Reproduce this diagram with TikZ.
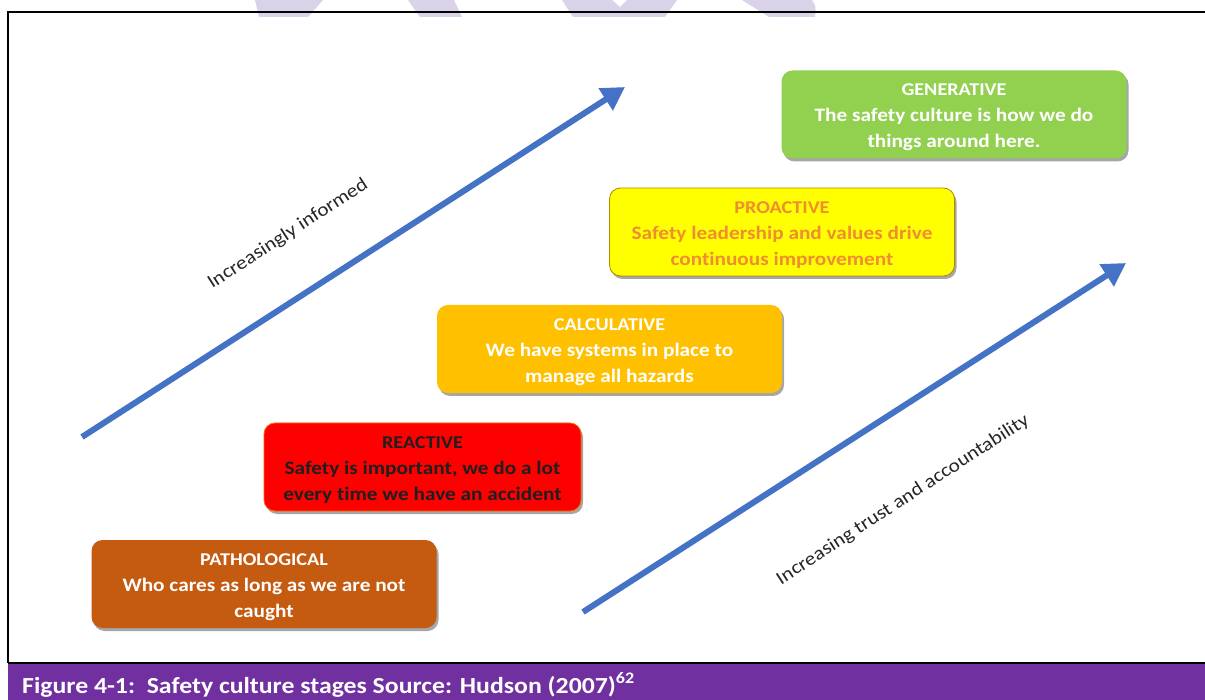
\documentclass[tikz,border=0pt]{standalone}
\usepackage{fontspec}
\setmainfont{Carlito}[FakeStretch=1.12, Ligatures=NoCommon]
\usetikzlibrary{arrows.meta,shadows}
\definecolor{patho}{HTML}{C55A11}
\definecolor{react}{HTML}{FF0000}
\definecolor{calc}{HTML}{FFC000}
\definecolor{proact}{HTML}{FFFF00}
\definecolor{gener}{HTML}{92D050}
\definecolor{proacttext}{HTML}{F08C32}
\definecolor{arrowblue}{HTML}{4472C4}
\definecolor{capbar}{HTML}{7030A0}
\definecolor{lettertint}{HTML}{DAD2E8}
\tikzset{
  stage/.style={rounded corners=11pt, minimum width=345pt, minimum height=88pt,
    align=center, inner sep=0pt, font=\bfseries\fontsize{19}{26}\selectfont,
    drop shadow={shadow xshift=2pt, shadow yshift=-3pt, opacity=0.35, fill=black}},
  trend/.style={line width=6pt, arrowblue, -{Triangle[length=23pt,width=25pt]}},
  slopelabel/.style={font=\fontsize{19}{22}\selectfont, text=black!85, rotate=33, anchor=center}
}
% heading line of a stage box; the strut lowers the text block slightly
\newcommand{\stagehead}[1]{{\fontsize{18}{26}\selectfont\rule{0pt}{18pt}#1}}
\begin{document}
\begin{tikzpicture}[x=1pt,y=-1pt]
\useasboundingbox (0,0) rectangle (1205,700);
\fill[white] (0,0) rectangle (1205,700);
% faint letters along the top edge
\fill[lettertint] (255,0) -- (323,0) -- (308,17) -- (259,17) -- cycle;
\fill[lettertint] (408,0) -- (454,0) -- (462,17) -- (420,17) -- cycle;
\fill[lettertint] (562,0) -- (612,0) -- (620,7) -- (627,0) -- (677,0) -- (665,17) -- (573,17) -- cycle;
\fill[lettertint] (742,0) -- (812,0) .. controls (816,6) .. (815,17) -- (769,17) -- cycle;
% frame
\draw[line width=2pt] (8,663) -- (8,12) -- (1205,12);
% caption bar
\fill[capbar] (8,663) rectangle (1205,700);
\draw[line width=2pt] (8,663) -- (1205,663);
\node[anchor=base west, text=white, inner sep=0pt, font=\bfseries\fontsize{23}{26}\selectfont]
  (cap) at (22,693) {Figure 4-1:\ \ Safety culture stages Source: Hudson (2007)\textsuperscript{62}};
% stages
\node[stage, fill=patho, text=white] (patho) at (264,584)
  {\stagehead{PATHOLOGICAL}\\Who cares as long as we are not\\caught};
\node[stage, minimum width=317pt, fill=react, draw=orange!80!red, line width=0.8pt, text=black!88] (react) at (422.5,467)
  {\stagehead{REACTIVE}\\Safety is important, we do a lot\\every time we have an accident};
\node[stage, fill=calc, text=white] (calc) at (609.5,349)
  {\stagehead{CALCULATIVE}\\We have systems in place to\\manage all hazards};
\node[stage, fill=proact, draw=calc!70!black, line width=0.8pt, text=proacttext] (proact) at (782,232)
  {\stagehead{PROACTIVE}\\Safety leadership and values drive\\continuous improvement};
\node[stage, fill=gener, text=white] (gener) at (954,114.5)
  {\stagehead{GENERATIVE}\\The safety culture is how we do\\things around here.};
% trend arrows
\coordinate (a1s) at (82,437);
\coordinate (a1e) at (625,87);
\coordinate (a2s) at (583,612);
\coordinate (a2e) at (1126,263);
\draw[trend] (a1s) -- (a1e);
\draw[trend] (a2s) -- (a2e);
\node[slopelabel] (lab1) at (288,234) {Increasingly informed};
\node[slopelabel] (lab2) at (903,500) {Increasing trust and accountability};
\end{tikzpicture}
\end{document}
